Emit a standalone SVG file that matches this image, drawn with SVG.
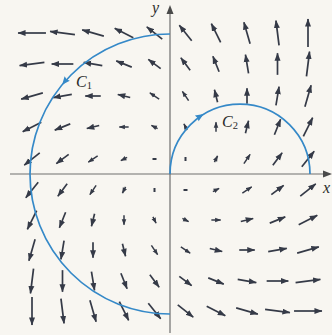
<svg xmlns="http://www.w3.org/2000/svg" width="332" height="335" viewBox="0 0 332 335">
<style>
.bg{fill:#f8f6f1}
.ax{stroke:#6e6e6e;stroke-width:1.2;fill:none}
.axh{fill:#4a4a4a}
.v{stroke:#353a47;stroke-width:1.7;marker-end:url(#ah)}
.s{stroke:#353a47;stroke-width:1.5;marker-end:url(#ahs)}
.t{stroke:#353a47;stroke-width:2}
.cv{stroke:#3589c8;stroke-width:1.7;fill:none}
.ch{fill:#3589c8}
.lb{font-family:"Liberation Serif","DejaVu Serif",serif;font-style:italic;font-size:16px;fill:#2a2a2a}
.sb{font-style:normal;font-size:10.5px}
</style>
<defs>
<marker id="ah" markerUnits="userSpaceOnUse" markerWidth="9" markerHeight="7" refX="7.5" refY="3.2" orient="auto"><path d="M0,0.2 L8,3.2 L0,6.2 z" fill="#353a47"/></marker>
<marker id="ahs" markerUnits="userSpaceOnUse" markerWidth="7" markerHeight="6" refX="5.5" refY="2.6" orient="auto"><path d="M0,0.3 L6,2.6 L0,4.9 z" fill="#353a47"/></marker>
</defs>
<rect class="bg" x="0" y="0" width="332" height="335"/>
<g id="axes">
<line class="ax" x1="10" y1="174" x2="326" y2="174"/>
<path class="axh" d="M332,174 L323,170.5 L323,177.5 z"/>
<line class="ax" x1="170" y1="333" x2="170" y2="12"/>
<path class="axh" d="M170,5 L166.5,14 L173.5,14 z"/>
<text class="lb" x="152" y="13">y</text>
<text class="lb" x="323" y="193">x</text>
</g>
<g id="vector-field">
<line class="v" x1="45.95" y1="33" x2="18.05" y2="33"/>
<line class="v" x1="74.9" y1="34.55" x2="50.1" y2="31.45"/>
<line class="v" x1="103.85" y1="36.1" x2="82.15" y2="29.9"/>
<line class="v" x1="133.3" y1="37.65" x2="114.7" y2="28.35"/>
<line class="v" x1="162.25" y1="39.2" x2="146.75" y2="26.8"/>
<line class="v" x1="191.7" y1="40.75" x2="179.3" y2="25.25"/>
<line class="v" x1="220.65" y1="42.3" x2="211.35" y2="23.7"/>
<line class="v" x1="250.1" y1="43.85" x2="243.9" y2="22.15"/>
<line class="v" x1="279.05" y1="45.4" x2="275.95" y2="20.6"/>
<line class="v" x1="308" y1="46.95" x2="308" y2="19.05"/>

<line class="v" x1="44.4" y1="62.45" x2="19.6" y2="65.55"/>
<line class="v" x1="73.35" y1="64" x2="51.65" y2="64"/>
<line class="v" x1="102.3" y1="65.55" x2="83.7" y2="62.45"/>
<line class="v" x1="131.75" y1="67.1" x2="116.25" y2="60.9"/>
<line class="v" x1="160.7" y1="68.65" x2="148.3" y2="59.35"/>
<line class="v" x1="190.15" y1="70.2" x2="180.85" y2="57.8"/>
<line class="v" x1="219.1" y1="71.75" x2="212.9" y2="56.25"/>
<line class="v" x1="248.55" y1="73.3" x2="245.45" y2="54.7"/>
<line class="v" x1="277.5" y1="74.85" x2="277.5" y2="53.15"/>
<line class="v" x1="306.45" y1="76.4" x2="309.55" y2="51.6"/>

<line class="v" x1="42.85" y1="92.9" x2="21.15" y2="99.1"/>
<line class="v" x1="71.8" y1="94.45" x2="53.2" y2="97.55"/>
<line class="v" x1="100.75" y1="96" x2="85.25" y2="96"/>
<line class="v" x1="130.2" y1="97.55" x2="117.8" y2="94.45"/>
<line class="s" x1="159.15" y1="99.1" x2="149.85" y2="92.9"/>
<line class="s" x1="188.6" y1="100.65" x2="182.4" y2="91.35"/>
<line class="v" x1="217.55" y1="102.2" x2="214.45" y2="89.8"/>
<line class="v" x1="247" y1="103.75" x2="247" y2="88.25"/>
<line class="v" x1="275.95" y1="105.3" x2="279.05" y2="86.7"/>
<line class="v" x1="304.9" y1="106.85" x2="311.1" y2="85.15"/>

<line class="v" x1="41.3" y1="122.35" x2="22.7" y2="131.65"/>
<line class="v" x1="70.25" y1="123.9" x2="54.75" y2="130.1"/>
<line class="v" x1="99.2" y1="125.45" x2="86.8" y2="128.55"/>
<line class="s" x1="128.65" y1="127" x2="119.35" y2="127"/>
<line class="s" x1="157.6" y1="128.55" x2="151.4" y2="125.45"/>
<line class="s" x1="187.05" y1="130.1" x2="183.95" y2="123.9"/>
<line class="s" x1="216" y1="131.65" x2="216" y2="122.35"/>
<line class="v" x1="245.45" y1="133.2" x2="248.55" y2="120.8"/>
<line class="v" x1="274.4" y1="134.75" x2="280.6" y2="119.25"/>
<line class="v" x1="303.35" y1="136.3" x2="312.65" y2="117.7"/>

<line class="v" x1="39.75" y1="152.8" x2="24.25" y2="165.2"/>
<line class="v" x1="68.7" y1="154.35" x2="56.3" y2="163.65"/>
<line class="s" x1="97.65" y1="155.9" x2="88.35" y2="162.1"/>
<line class="s" x1="127.1" y1="157.45" x2="120.9" y2="160.55"/>
<line class="t" x1="156.5" y1="159" x2="152.5" y2="159"/>
<line class="t" x1="185.5" y1="161" x2="185.5" y2="157"/>
<line class="s" x1="214.45" y1="162.1" x2="217.55" y2="155.9"/>
<line class="s" x1="243.9" y1="163.65" x2="250.1" y2="154.35"/>
<line class="v" x1="272.85" y1="165.2" x2="282.15" y2="152.8"/>
<line class="v" x1="301.8" y1="166.75" x2="314.2" y2="151.25"/>

<line class="v" x1="38.2" y1="182.25" x2="25.8" y2="197.75"/>
<line class="v" x1="67.15" y1="183.8" x2="57.85" y2="196.2"/>
<line class="s" x1="96.1" y1="185.35" x2="89.9" y2="194.65"/>
<line class="s" x1="125.55" y1="186.9" x2="122.45" y2="193.1"/>
<line class="t" x1="154.5" y1="188" x2="154.5" y2="192"/>
<line class="t" x1="183.5" y1="190" x2="187.5" y2="190"/>
<line class="s" x1="212.9" y1="191.55" x2="219.1" y2="188.45"/>
<line class="s" x1="242.35" y1="193.1" x2="251.65" y2="186.9"/>
<line class="v" x1="271.3" y1="194.65" x2="283.7" y2="185.35"/>
<line class="v" x1="300.25" y1="196.2" x2="315.75" y2="183.8"/>

<line class="v" x1="36.65" y1="210.7" x2="27.35" y2="229.3"/>
<line class="v" x1="65.6" y1="212.25" x2="59.4" y2="227.75"/>
<line class="v" x1="94.55" y1="213.8" x2="91.45" y2="226.2"/>
<line class="s" x1="124" y1="215.35" x2="124" y2="224.65"/>
<line class="s" x1="152.95" y1="216.9" x2="156.05" y2="223.1"/>
<line class="s" x1="182.4" y1="218.45" x2="188.6" y2="221.55"/>
<line class="s" x1="211.35" y1="220" x2="220.65" y2="220"/>
<line class="v" x1="240.8" y1="221.55" x2="253.2" y2="218.45"/>
<line class="v" x1="269.75" y1="223.1" x2="285.25" y2="216.9"/>
<line class="v" x1="298.7" y1="224.65" x2="317.3" y2="215.35"/>

<line class="v" x1="35.1" y1="239.15" x2="28.9" y2="260.85"/>
<line class="v" x1="64.05" y1="240.7" x2="60.95" y2="259.3"/>
<line class="v" x1="93" y1="242.25" x2="93" y2="257.75"/>
<line class="v" x1="122.45" y1="243.8" x2="125.55" y2="256.2"/>
<line class="s" x1="151.4" y1="245.35" x2="157.6" y2="254.65"/>
<line class="s" x1="180.85" y1="246.9" x2="190.15" y2="253.1"/>
<line class="v" x1="209.8" y1="248.45" x2="222.2" y2="251.55"/>
<line class="v" x1="239.25" y1="250" x2="254.75" y2="250"/>
<line class="v" x1="268.2" y1="251.55" x2="286.8" y2="248.45"/>
<line class="v" x1="297.15" y1="253.1" x2="318.85" y2="246.9"/>

<line class="v" x1="33.55" y1="268.6" x2="30.45" y2="293.4"/>
<line class="v" x1="62.5" y1="270.15" x2="62.5" y2="291.85"/>
<line class="v" x1="91.45" y1="271.7" x2="94.55" y2="290.3"/>
<line class="v" x1="120.9" y1="273.25" x2="127.1" y2="288.75"/>
<line class="v" x1="149.85" y1="274.8" x2="159.15" y2="287.2"/>
<line class="v" x1="179.3" y1="276.35" x2="191.7" y2="285.65"/>
<line class="v" x1="208.25" y1="277.9" x2="223.75" y2="284.1"/>
<line class="v" x1="237.7" y1="279.45" x2="256.3" y2="282.55"/>
<line class="v" x1="266.65" y1="281" x2="288.35" y2="281"/>
<line class="v" x1="295.6" y1="282.55" x2="320.4" y2="279.45"/>

<line class="v" x1="32" y1="297.05" x2="32" y2="324.95"/>
<line class="v" x1="60.95" y1="298.6" x2="64.05" y2="323.4"/>
<line class="v" x1="89.9" y1="300.15" x2="96.1" y2="321.85"/>
<line class="v" x1="119.35" y1="301.7" x2="128.65" y2="320.3"/>
<line class="v" x1="148.3" y1="303.25" x2="160.7" y2="318.75"/>
<line class="v" x1="177.75" y1="304.8" x2="193.25" y2="317.2"/>
<line class="v" x1="206.7" y1="306.35" x2="225.3" y2="315.65"/>
<line class="v" x1="236.15" y1="307.9" x2="257.85" y2="314.1"/>
<line class="v" x1="265.1" y1="309.45" x2="289.9" y2="312.55"/>
<line class="v" x1="294.05" y1="311" x2="321.95" y2="311"/>
</g>
<g id="curve-C1">
<path class="cv" d="M170,34 A140,140 0 0 0 170,314"/>
<path class="ch" d="M62.1,84.8 L69.8,80.8 L66.6,79.2 L64.6,76.3 z"/>
<text class="lb" x="76" y="87">C<tspan class="sb" dy="1.5">1</tspan></text>
</g>
<g id="curve-C2">
<path class="cv" d="M170,174 A70,70 0 0 1 310,174"/>
<path class="ch" d="M203.7,114.1 L198.6,121.2 L197.5,117.9 L194.9,115.4 z"/>
<text class="lb" x="222" y="127">C<tspan class="sb" dy="1.5">2</tspan></text>
</g>
</svg>
